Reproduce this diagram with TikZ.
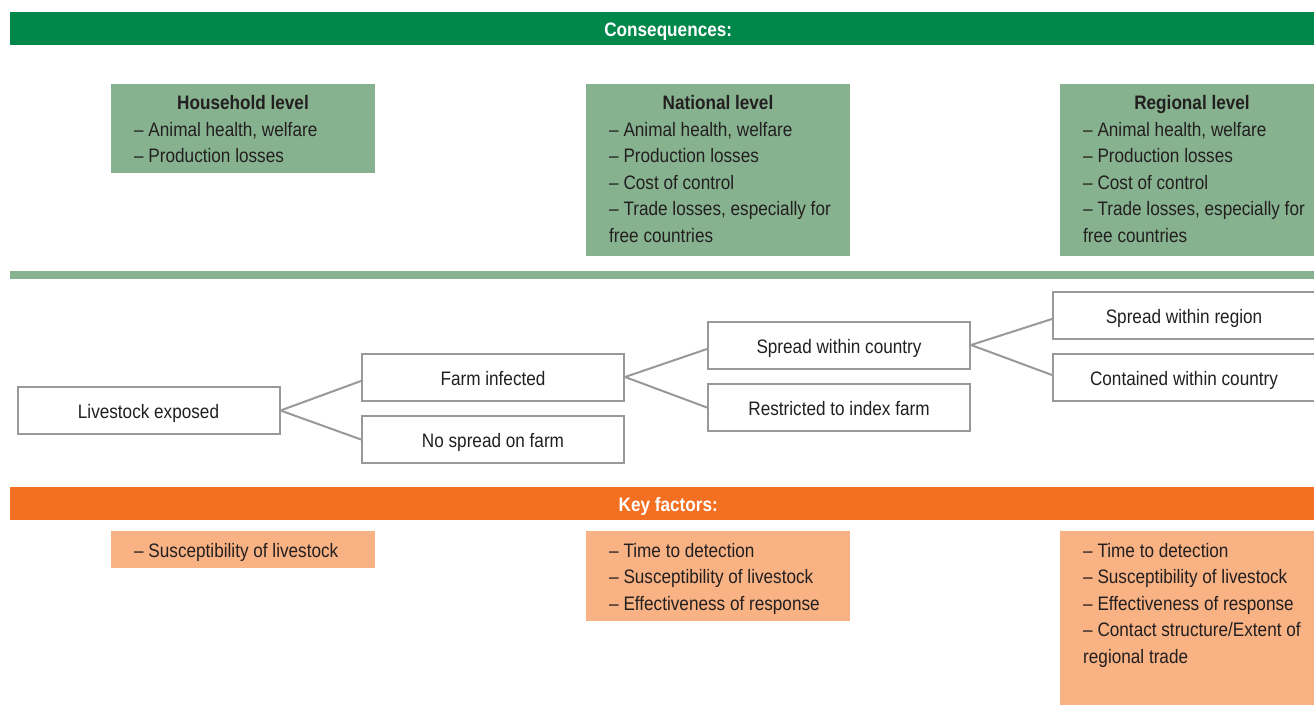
\documentclass[tikz,border=0pt]{standalone}
\usepackage{fontspec}
\setmainfont[FakeStretch=0.88]{Liberation Sans}
\usetikzlibrary{calc}
\definecolor{dgreen}{RGB}{0,135,74}
\definecolor{lgreen}{RGB}{134,178,143}
\definecolor{dorange}{RGB}{243,111,33}
\definecolor{lorange}{RGB}{248,178,131}
\definecolor{boxgray}{RGB}{153,153,153}
\definecolor{txt}{RGB}{35,31,32}
\begin{document}
\begin{tikzpicture}[x=1pt,y=-1pt,
  band/.style={fill=#1, draw=none, inner sep=0pt, anchor=north west, minimum width=1316pt, minimum height=33pt,
    text=white, font=\fontsize{19.5}{23}\selectfont\bfseries, text height=16pt, text depth=0pt},
  panel/.style={fill=#1, draw=none, inner sep=0pt, anchor=north west, minimum width=264pt},
  ttl/.style={anchor=base, inner sep=0pt, text=txt, font=\fontsize{19.5}{26.6}\selectfont\bfseries},
  body/.style={anchor=base west, inner sep=0pt, align=left, text=txt, font=\fontsize{19.5}{26.6}\selectfont},
  stage/.style={draw=boxgray, line width=2pt, fill=white, minimum width=262pt, minimum height=47pt,
    inner sep=0pt, text=txt, font=\fontsize{19.5}{23}\selectfont, text height=16pt, text depth=0pt},
  conn/.style={draw=boxgray, line width=2pt}
]
\useasboundingbox (0,0) rectangle (1314,704);
\fill[white] (0,0) rectangle (1314,704);

% bands
\node[band=dgreen] (cons) at (10,12) {Consequences:};
\node[band=lgreen, minimum height=8pt, text height=0pt] (sep) at (10,271) {};
\node[band=dorange] (keyf) at (10,487) {Key factors:};

% consequence panels (body nodes are placed at the baseline of their last line)
\node[panel=lgreen, minimum height=89pt] (hh) at (111,84) {};
\node[ttl] (hhT) at (243,109) {Household level};
\node[body] (hhB) at (134,162.6) {– Animal health, welfare\\– Production losses};

\node[panel=lgreen, minimum height=172pt] (nat) at (586,84) {};
\node[ttl] (natT) at (718,109) {National level};
\node[body] (natB) at (609,242.4) {– Animal health, welfare\\– Production losses\\– Cost of control\\– Trade losses, especially for\\free countries};

\node[panel=lgreen, minimum height=172pt] (reg) at (1060,84) {};
\node[ttl] (regT) at (1192,109) {Regional level};
\node[body] (regB) at (1083,242.4) {– Animal health, welfare\\– Production losses\\– Cost of control\\– Trade losses, especially for\\free countries};

% stages
\node[stage] (le) at (148.5,410.5) {Livestock exposed};
\node[stage] (fi) at (493,377) {Farm infected};
\node[stage] (ns) at (493,439.5) {No spread on farm};
\node[stage] (sc) at (839,345) {Spread within country};
\node[stage] (ri) at (839,407.5) {Restricted to index farm};
\node[stage] (sr) at (1184,315) {Spread within region};
\node[stage] (cc) at (1184,377) {Contained within country};

\draw[conn] (le.east) -- ([yshift=-4pt]fi.west);
\draw[conn] (le.east) -- (ns.west);
\draw[conn] (fi.east) -- ([yshift=-4pt]sc.west);
\draw[conn] (fi.east) -- (ri.west);
\draw[conn] (sc.east) -- ([yshift=-4pt]sr.west);
\draw[conn] (sc.east) -- ([yshift=2pt]cc.west);

% key factor panels
\node[panel=lorange, minimum height=37pt] (k1) at (111,531) {};
\node[body] (k1B) at (134,557) {– Susceptibility of livestock};

\node[panel=lorange, minimum height=90pt] (k2) at (586,531) {};
\node[body] (k2B) at (609,610.2) {– Time to detection\\– Susceptibility of livestock\\– Effectiveness of response};

\node[panel=lorange, minimum height=176pt] (k3) at (1060,531) {};
\node[body] (k3B) at (1083,663.4) {– Time to detection\\– Susceptibility of livestock\\– Effectiveness of response\\– Contact structure/Extent of\\regional trade};
\end{tikzpicture}
\end{document}
